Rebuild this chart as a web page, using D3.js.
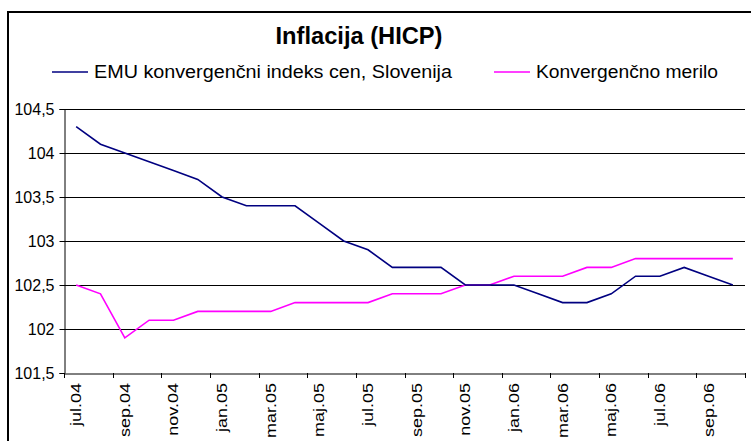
<!DOCTYPE html>
<html><head><meta charset="utf-8">
<script src="https://cdn.jsdelivr.net/npm/d3@7/dist/d3.min.js"></script>
<style>body{margin:0;background:#fff;}svg{display:block;font-family:Arial,"Liberation Sans",sans-serif;}</style>
</head><body>
<script>
const months = ["jul.04","avg.04","sep.04","okt.04","nov.04","dec.04",
"jan.05","feb.05","mar.05","apr.05","maj.05","jun.05","jul.05","avg.05","sep.05","okt.05","nov.05","dec.05",
"jan.06","feb.06","mar.06","apr.06","maj.06","jun.06","jul.06","avg.06","sep.06","okt.06"];
const emuIndex = [104.3,104.1,104.0,103.9,103.8,103.7,103.5,103.4,103.4,103.4,103.2,103.0,102.9,102.7,102.7,102.7,102.5,102.5,102.5,102.4,102.3,102.3,102.4,102.6,102.6,102.7,102.6,102.5];
const merilo = [102.5,102.4,101.9,102.1,102.1,102.2,102.2,102.2,102.2,102.3,102.3,102.3,102.3,102.4,102.4,102.4,102.5,102.5,102.6,102.6,102.6,102.7,102.7,102.8,102.8,102.8,102.8,102.8];
const yTicks = [101.5,102,102.5,103,103.5,104,104.5];
const seriesNames = ["EMU konvergenčni indeks cen, Slovenija","Konvergenčno merilo"];
const title = "Inflacija (HICP)";

const W=751,H=441;
const svg=d3.select("body").append("svg").attr("width",W).attr("height",H);
svg.append("rect").attr("x",8).attr("y",12).attr("width",760).attr("height",450)
  .attr("fill","#fff").attr("stroke","#000").attr("stroke-width",2);

const L=64,R=745,T=109,B=373;
const x=d3.scaleBand().domain(months).range([L,R]);
const y=d3.scaleLinear().domain([101.5,104.5]).range([B,T]);
const fmt=d=>String(d).replace(".",",");

// gridlines
svg.append("g").selectAll("line").data(yTicks.filter(d=>d>101.5)).join("line")
  .attr("x1",L).attr("x2",R).attr("y1",d=>Math.round(y(d))+0.5).attr("y2",d=>Math.round(y(d))+0.5)
  .attr("stroke","#000").attr("stroke-width",1);

// y axis
const ya=svg.append("g").attr("transform",`translate(${L+0.5},0)`)
  .call(d3.axisLeft(y).tickValues(yTicks).tickFormat(fmt).tickSize(5).tickPadding(5));
ya.selectAll("text").attr("font-size",16).attr("fill","#000").attr("font-family","Arial,'Liberation Sans',sans-serif");
ya.selectAll("line,path").attr("stroke","#000");

// x axis
const xa=svg.append("g").attr("transform",`translate(0,${B+0.5})`)
  .call(d3.axisBottom(x).tickValues([]).tickSize(0));
xa.select("path").attr("stroke","#000");
const step=x.step();
const tickPos=d3.range(0,months.length+1,2).map(i=>L+i*step);
svg.append("g").selectAll("line").data(tickPos).join("line")
  .attr("x1",d=>Math.round(d)+0.5).attr("x2",d=>Math.round(d)+0.5).attr("y1",B).attr("y2",B+5)
  .attr("stroke","#000");
svg.append("g").selectAll("text").data(months.filter((d,i)=>i%2===0)).join("text")
  .attr("transform",d=>`translate(${x(d)+x.bandwidth()/2+5},${B+10}) rotate(-90) scale(1.2,1)`)
  .attr("text-anchor","end").attr("font-size",15).attr("fill","#000").text(d=>d);

// lines
const line=d3.line().x((d,i)=>x(months[i])+x.bandwidth()/2).y(d=>y(d));
svg.append("path").datum(merilo).attr("d",line).attr("fill","none").attr("stroke","#FF00FF").attr("stroke-width",1.6);
svg.append("path").datum(emuIndex).attr("d",line).attr("fill","none").attr("stroke","#000080").attr("stroke-width",1.6);

// title
svg.append("text").attr("x",359).attr("y",44).attr("text-anchor","middle")
  .attr("font-size",23).attr("font-weight","bold")
  .attr("textLength",167).attr("lengthAdjust","spacingAndGlyphs").text(title);

// legend
const leg=[{name:seriesNames[0],color:"#000080",x:52,len:358},{name:seriesNames[1],color:"#FF00FF",x:494,len:182}];
const lg=svg.append("g").selectAll("g").data(leg).join("g");
lg.append("line").attr("x1",d=>d.x).attr("x2",d=>d.x+36).attr("y1",72).attr("y2",72)
  .attr("stroke",d=>d.color).attr("stroke-width",1.6);
lg.append("text").attr("x",d=>d.x+42).attr("y",78).attr("font-size",17.5)
  .attr("textLength",d=>d.len).attr("lengthAdjust","spacingAndGlyphs").text(d=>d.name);
</script>
</body></html>
